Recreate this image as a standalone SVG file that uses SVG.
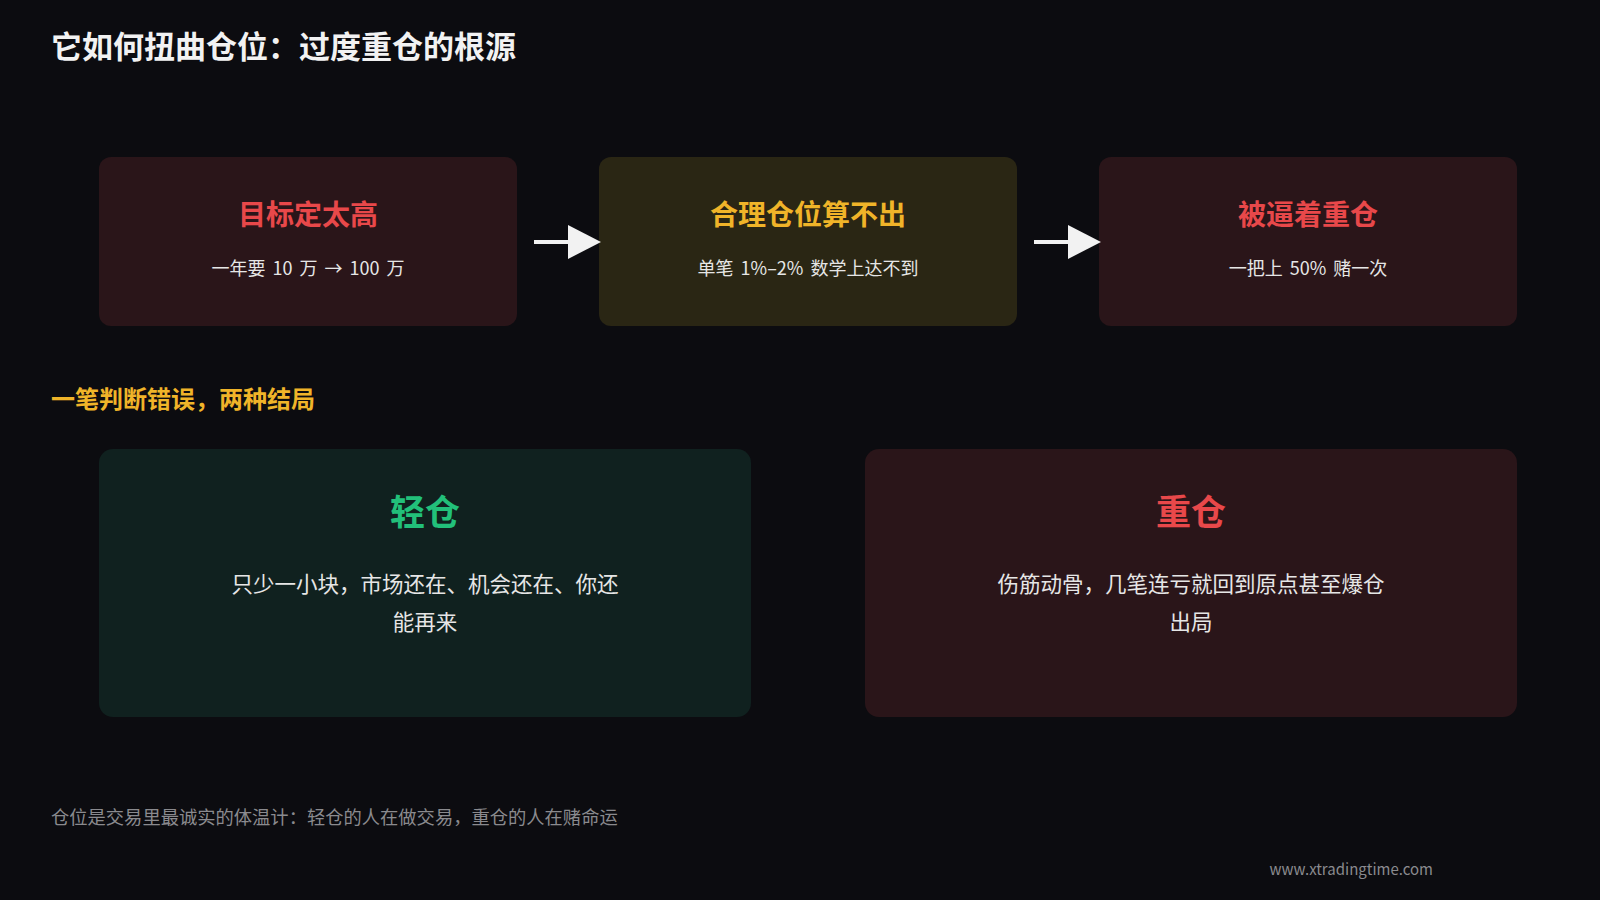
<svg xmlns="http://www.w3.org/2000/svg" width="1600" height="900" viewBox="0 0 1600 900">
<style>
text{font-family:"Noto Sans CJK SC","Noto Sans",sans-serif}
.t{font-size:28px;font-weight:700;text-anchor:middle}
.s{font-size:18px;fill:#e6e6e6;text-anchor:middle;word-spacing:3px}
.bt{font-size:35px;font-weight:700;text-anchor:middle}
.bs{font-size:21.5px;fill:#e6e6e6;text-anchor:middle}
.red{fill:#2a1519}.yel{fill:#2a2614}.grn{fill:#10211f}
</style>
<rect width="1600" height="900" fill="#0c0c10"/>
<text x="51" y="58" font-size="31" font-weight="700" fill="#f2f2f2">它如何扭曲仓位：过度重仓的根源</text>
<g id="n1"><rect class="red" x="99" y="157" width="418" height="169" rx="12"/><text class="t" x="308" y="225" fill="#e8484a">目标定太高</text><text class="s" x="308" y="275">一年要 10 万 → 100 万</text></g>
<g id="n2"><rect class="yel" x="599" y="157" width="418" height="169" rx="12"/><text class="t" x="808" y="225" fill="#f0b429">合理仓位算不出</text><text class="s" x="808" y="275">单笔 1%–2% 数学上达不到</text></g>
<g id="n3"><rect class="red" x="1099" y="157" width="418" height="169" rx="12"/><text class="t" x="1308" y="225" fill="#e8484a">被逼着重仓</text><text class="s" x="1308" y="275">一把上 50% 赌一次</text></g>
<g id="connectors" fill="#f2f2f2" stroke="#f2f2f2">
<line x1="534" y1="242" x2="572" y2="242" stroke-width="4"/><path d="M568,225L601,242L568,259Z" stroke="none"/>
<line x1="1034" y1="242" x2="1072" y2="242" stroke-width="4"/><path d="M1068,225L1101,242L1068,259Z" stroke="none"/>
</g>
<text x="51" y="408" font-size="24" font-weight="700" fill="#f0b429">一笔判断错误，两种结局</text>
<g id="n4"><rect class="grn" x="99" y="449" width="652" height="268" rx="14"/><text class="bt" x="425" y="525" fill="#22c07a">轻仓</text><text class="bs" x="425" y="592">只少一小块，市场还在、机会还在、你还</text><text class="bs" x="425" y="630">能再来</text></g>
<g id="n5"><rect class="red" x="865" y="449" width="652" height="268" rx="14"/><text class="bt" x="1191" y="525" fill="#e8484a">重仓</text><text class="bs" x="1191" y="592">伤筋动骨，几笔连亏就回到原点甚至爆仓</text><text class="bs" x="1191" y="630">出局</text></g>
<text x="51" y="824" font-size="18.3" fill="#8a8a8e">仓位是交易里最诚实的体温计：轻仓的人在做交易，重仓的人在赌命运</text>
<text x="1433" y="875" font-size="15" fill="#8a8a8e" text-anchor="end">www.xtradingtime.com</text>
</svg>
